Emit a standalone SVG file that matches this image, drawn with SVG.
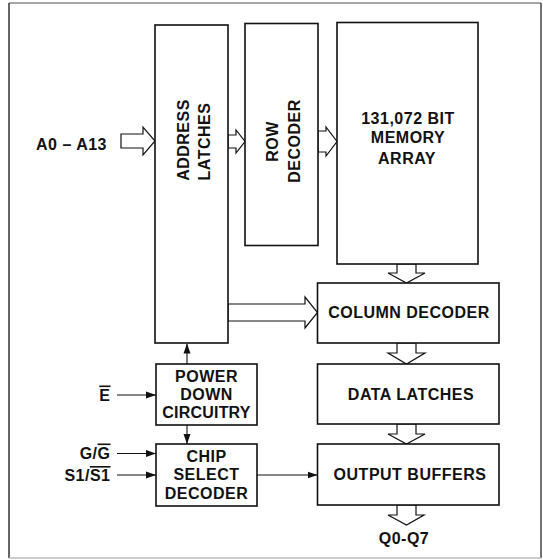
<svg xmlns="http://www.w3.org/2000/svg" width="543" height="560" viewBox="0 0 543 560">
<defs>
<style>
.box{fill:#fff;stroke:#111;stroke-width:1.6}
.t{font-family:"Liberation Sans",Arial,sans-serif;font-weight:bold;font-size:16px;letter-spacing:0.5px;fill:#111;text-anchor:middle}
.l{font-family:"Liberation Sans",Arial,sans-serif;font-weight:bold;font-size:16px;letter-spacing:0.5px;fill:#111;text-anchor:end}
.bus{fill:#fff;stroke:#111;stroke-width:1.2;stroke-linejoin:miter}
.wire{fill:none;stroke:#111;stroke-width:1.1}
.ol{text-decoration:overline}
</style>
<marker id="ah" markerUnits="userSpaceOnUse" markerWidth="10" markerHeight="8" refX="10" refY="4" orient="auto">
<path d="M0,0.5 L10,4 L0,7.5 Z" fill="#111"/>
</marker>
</defs>
<rect width="543" height="560" fill="#fff"/>
<g id="frame" fill="none">
<line x1="9" y1="3" x2="541" y2="3" stroke="#8a8a8a" stroke-width="1.5"/>
<line x1="9" y1="3" x2="9" y2="558" stroke="#333" stroke-width="1.5"/>
<line x1="541" y1="3" x2="541" y2="558" stroke="#444" stroke-width="1.5"/>
<line x1="9" y1="558" x2="541" y2="558" stroke="#bbb" stroke-width="1.5"/>
</g>
<g id="connectors">
<polygon class="bus" points="121,134 143,134 143,127 155,141 143,155 143,148 121,148"/>
<polygon class="bus" points="228,135 236,135 236,130 245,141.5 236,153 236,148 228,148"/>
<polygon class="bus" points="318,131 326,131 326,127 337,141.5 326,156 326,152 318,152"/>
<polygon class="bus" points="397,264 416,264 416,273 425,273 406.5,283 388,273 397,273"/>
<polygon class="bus" points="228,304 305,304 305,297 317.5,312.5 305,328 305,321 228,321"/>
<polygon class="bus" points="397,343 416,343 416,353 425,353 406.5,364 388,353 397,353"/>
<polygon class="bus" points="397,424 416,424 416,434 425,434 406.5,444 388,434 397,434"/>
<polygon class="bus" points="397,505 416,505 416,515 424,515 406.5,525 388,515 397,515"/>
<line class="wire" x1="187" y1="364" x2="187" y2="343.5" marker-end="url(#ah)"/>
<line class="wire" x1="187" y1="425" x2="187" y2="444" marker-end="url(#ah)"/>
<line class="wire" x1="117" y1="395" x2="156" y2="395" marker-end="url(#ah)"/>
<line class="wire" x1="117" y1="453.5" x2="156" y2="453.5" marker-end="url(#ah)"/>
<line class="wire" x1="117" y1="475" x2="156" y2="475" marker-end="url(#ah)"/>
<line class="wire" x1="257" y1="475" x2="317.5" y2="475" marker-end="url(#ah)"/>
</g>
<g id="address-latches">
<rect class="box" x="155" y="25" width="73" height="318"/>
<text class="t" transform="translate(189,140) rotate(-90)">ADDRESS</text>
<text class="t" transform="translate(210,141.5) rotate(-90)">LATCHES</text>
</g>
<g id="row-decoder">
<rect class="box" x="245" y="23.5" width="73" height="222"/>
<text class="t" transform="translate(277.5,141.5) rotate(-90)">ROW</text>
<text class="t" transform="translate(299.5,141) rotate(-90)">DECODER</text>
</g>
<g id="memory-array">
<rect class="box" x="337" y="22.5" width="141" height="241.5"/>
<text class="t" x="408" y="123.5">131,072 BIT</text>
<text class="t" x="408" y="143">MEMORY</text>
<text class="t" x="407" y="163.5">ARRAY</text>
</g>
<g id="column-decoder">
<rect class="box" x="317.5" y="283" width="181.5" height="60"/>
<text class="t" x="409" y="318">COLUMN DECODER</text>
</g>
<g id="data-latches">
<rect class="box" x="317.5" y="364" width="181.5" height="60"/>
<text class="t" x="411" y="399.5">DATA LATCHES</text>
</g>
<g id="output-buffers">
<rect class="box" x="317.5" y="444" width="181.5" height="61"/>
<text class="t" x="410" y="479.5">OUTPUT BUFFERS</text>
</g>
<g id="power-down">
<rect class="box" x="156" y="364" width="101" height="61"/>
<text class="t" x="206.5" y="381.5">POWER</text>
<text class="t" x="206.5" y="399.5">DOWN</text>
<text class="t" x="206.5" y="417.5" style="letter-spacing:0.2px">CIRCUITRY</text>
</g>
<g id="chip-select">
<rect class="box" x="156" y="444" width="101" height="62"/>
<text class="t" x="206.5" y="461.5">CHIP</text>
<text class="t" x="206.5" y="480">SELECT</text>
<text class="t" x="206.5" y="498.5">DECODER</text>
</g>
<g id="labels">
<text class="l" x="107" y="150">A0 – A13</text>
<text class="l" x="110.5" y="400.5"><tspan class="ol">E</tspan></text>
<text class="l" x="110.5" y="458.5">G/<tspan class="ol">G</tspan></text>
<text class="l" x="110.5" y="481">S1/<tspan class="ol">S1</tspan></text>
<text class="t" x="404" y="544">Q0-Q7</text>
</g>
</svg>
